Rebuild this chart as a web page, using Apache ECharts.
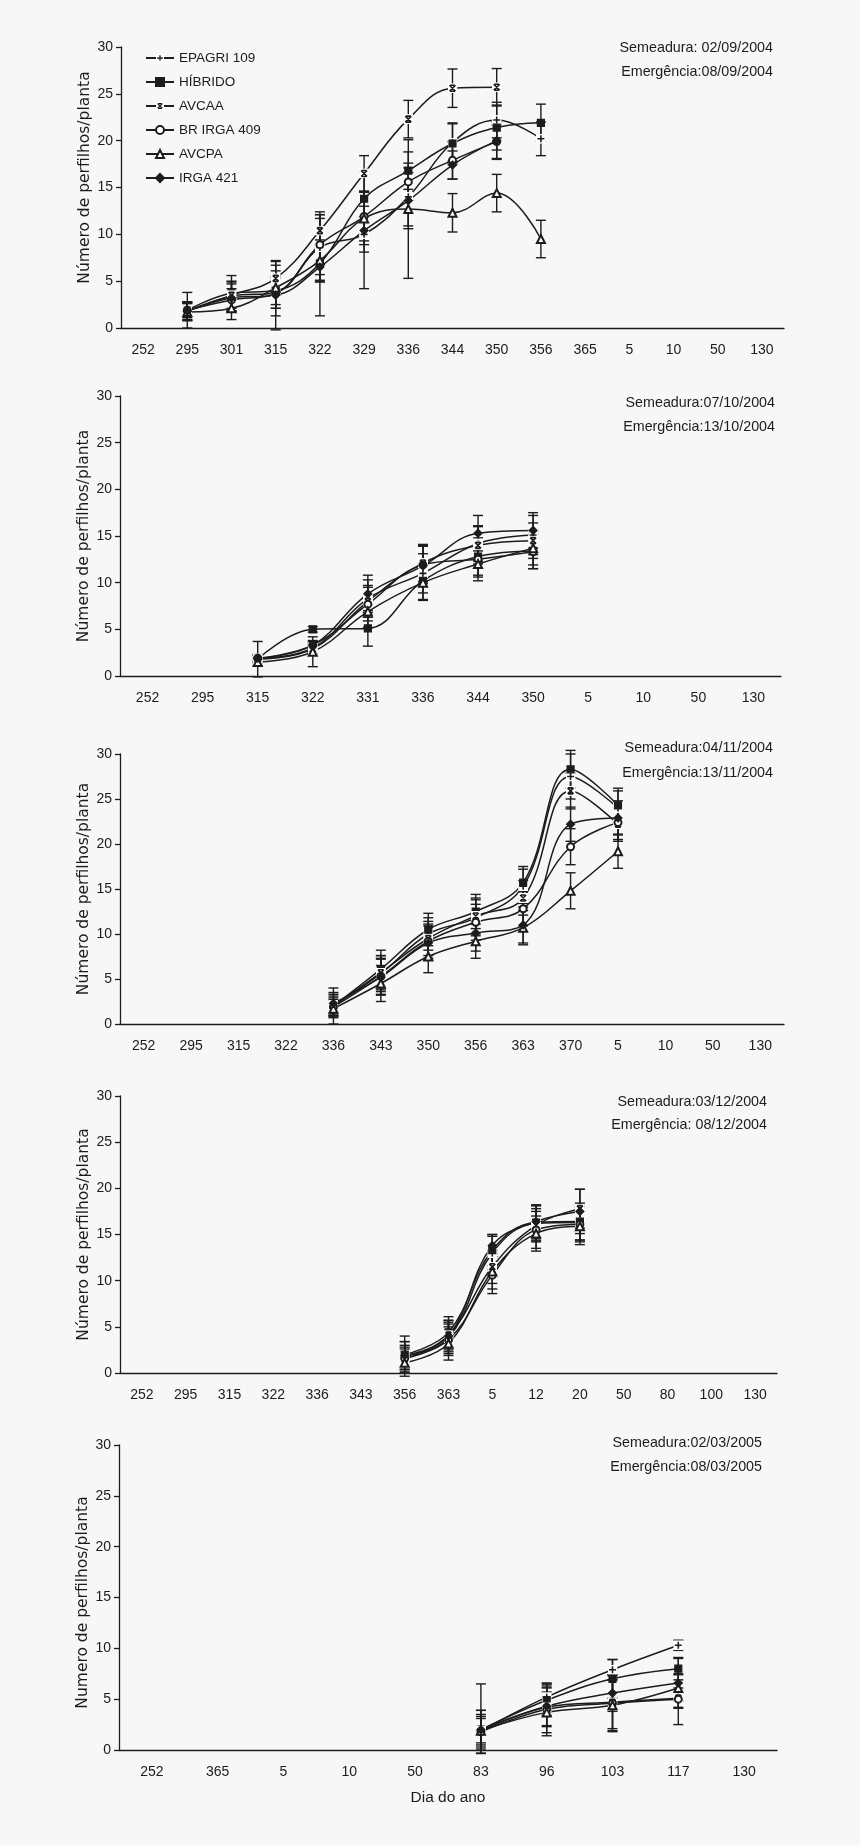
<!DOCTYPE html>
<html><head><meta charset="utf-8">
<script src="https://cdn.jsdelivr.net/npm/echarts@6/dist/echarts.min.js"></script>
<style>html,body{margin:0;padding:0;background:#f7f7f7}#c{width:860px;height:1845px}</style>
</head><body><div id="c"></div>
<script>
// ---------- DATA ----------
const seriesNames = ['EPAGRI 109', 'HÍBRIDO', 'AVCAA', 'BR IRGA 409', 'AVCPA', 'IRGA 421'];
const yAxisTitles = ['Número de perfilhos/planta', 'Número de perfilhos/planta', 'Número de perfilhos/planta', 'Número de perfilhos/planta', 'Numero de perfilhos/planta'];
const xAxisTitle = 'Dia do ano';
const notes1 = ['Semeadura: 02/09/2004', 'Emergência:08/09/2004'];
const notes2 = ['Semeadura:07/10/2004', 'Emergência:13/10/2004'];
const notes3 = ['Semeadura:04/11/2004', 'Emergência:13/11/2004'];
const notes4 = ['Semeadura:03/12/2004', 'Emergência: 08/12/2004'];
const notes5 = ['Semeadura:02/03/2005', 'Emergência:08/03/2005'];

// Panel 1
const cats1 = ['252','295','301','315','322','329','336','344','350','356','365','5','10','50','130'];
const vals1 = [
  [null,1.8,3.4,3.8,8.6,10.0,14.0,19.8,22.2,20.2],
  [null,1.9,3.7,4.0,6.9,13.8,16.8,19.7,21.4,21.9],
  [null,1.8,3.5,5.3,10.4,16.5,22.3,25.6,25.7,null],
  [null,1.9,3.0,3.7,8.9,11.9,15.6,17.9,19.9,null],
  [null,1.7,2.1,4.3,7.2,11.7,12.7,12.3,14.4,9.5],
  [null,1.8,3.2,3.5,6.5,10.4,13.6,17.4,20.0,null]
];
const errs1 = [
  [null,1.0,1.6,1.7,3.5,1.9,3.1,2.0,1.9,1.8],
  [null,1.9,1.9,2.7,2.0,0.8,2.0,2.2,2.4,2.0],
  [null,0.9,1.4,1.8,2.0,1.9,2.0,2.05,2.0,null],
  [null,0.8,1.2,1.6,3.2,2.6,2.0,2.0,1.8,null],
  [null,0.9,1.2,1.8,2.2,2.8,7.4,2.05,2.0,2.0],
  [null,1.0,1.5,3.7,5.2,6.2,3.0,1.5,2.0,null]
];
// Panel 2
const cats2 = ['252','295','315','322','331','336','344','350','5','10','50','130'];
const vals2 = [
  [null,null,1.9,3.0,8.3,11.0,14.2,15.1],
  [null,null,1.8,5.0,5.1,10.2,12.8,13.4],
  [null,null,1.8,2.9,8.0,12.1,14.0,14.5],
  [null,null,1.9,3.3,7.7,11.9,12.5,13.3],
  [null,null,1.5,2.6,6.9,10.0,12.0,13.7],
  [null,null,1.9,3.3,8.8,11.8,15.3,15.6]
];
const errs2 = [
  [null,null,0.4,0.5,2.0,2.1,1.9,2.1],
  [null,null,1.9,0.3,1.9,2.0,2.0,1.9],
  [null,null,0.4,0.4,1.7,2.0,2.0,1.9],
  [null,null,0.3,0.4,1.8,2.0,1.9,1.8],
  [null,null,0.4,1.6,1.7,1.9,1.8,1.8],
  [null,null,0.4,0.5,2.0,2.2,1.9,1.9]
];
// Panel 3
const cats3 = ['252','295','315','322','336','343','350','356','363','370','5','10','50','130'];
const vals3 = [
  [null,null,null,null,2.1,5.6,10.0,11.8,15.3,27.5,24.0],
  [null,null,null,null,2.0,6.1,10.5,12.5,15.7,28.3,24.3],
  [null,null,null,null,2.0,5.7,9.5,12.0,14.0,25.9,22.2],
  [null,null,null,null,1.9,5.3,9.2,11.3,12.8,19.7,22.4],
  [null,null,null,null,1.7,4.5,7.5,9.2,10.7,14.8,19.2],
  [null,null,null,null,2.3,5.2,9.0,10.1,11.0,22.2,22.9]
];
const errs3 = [
  [null,null,null,null,1.2,2.0,1.8,2.0,1.9,2.5,1.9],
  [null,null,null,null,2.0,2.1,1.8,1.9,1.8,2.1,1.9],
  [null,null,null,null,1.1,1.9,1.9,2.0,1.9,2.0,1.9],
  [null,null,null,null,1.0,2.0,1.9,2.0,1.9,2.0,1.9],
  [null,null,null,null,1.0,2.0,1.8,1.9,1.9,2.0,1.9],
  [null,null,null,null,1.2,2.0,1.9,2.0,2.0,1.9,1.9]
];
// Panel 4
const cats4 = ['252','295','315','322','336','343','356','363','5','12','20','50','80','100','130'];
const vals4 = [
  [null,null,null,null,null,null,1.8,3.8,13.0,16.2,16.3],
  [null,null,null,null,null,null,2.0,4.4,13.3,16.3,16.4],
  [null,null,null,null,null,null,1.5,4.1,11.5,16.0,17.8],
  [null,null,null,null,null,null,1.6,3.6,10.6,15.5,16.1],
  [null,null,null,null,null,null,1.1,3.2,11.0,15.1,15.9],
  [null,null,null,null,null,null,1.9,4.0,13.8,16.4,17.5]
];
const errs4 = [
  [null,null,null,null,null,null,1.6,1.7,1.8,1.9,1.9],
  [null,null,null,null,null,null,2.0,1.7,1.7,1.9,2.0],
  [null,null,null,null,null,null,1.5,1.6,1.8,1.8,2.1],
  [null,null,null,null,null,null,1.2,1.7,2.0,2.0,1.9],
  [null,null,null,null,null,null,1.5,1.8,1.9,1.9,2.0],
  [null,null,null,null,null,null,1.5,1.7,1.2,1.8,2.4]
];
// Panel 5
const cats5 = ['252','365','5','10','50','83','96','103','117','130'];
const vals5 = [
  [null,null,null,null,null,1.9,5.2,7.9,10.3],
  [null,null,null,null,null,2.0,4.9,7.0,8.0],
  [null,null,null,null,null,1.9,4.2,4.7,5.1],
  [null,null,null,null,null,1.8,4.0,4.6,5.0],
  [null,null,null,null,null,1.9,3.7,4.4,6.1],
  [null,null,null,null,null,2.0,4.3,5.6,6.6]
];
const errs5 = [
  [null,null,null,null,null,1.6,1.3,1.0,0.5],
  [null,null,null,null,null,1.9,1.5,1.9,1.1],
  [null,null,null,null,null,1.4,1.9,2.6,1.0],
  [null,null,null,null,null,2.1,2.6,2.8,2.5],
  [null,null,null,null,null,1.2,2.0,2.5,1.3],
  [null,null,null,null,null,4.5,1.9,1.8,2.4]
];

// ---------- STYLE / LAYOUT ----------
const INK = '#1c1c1c';
const SANS = "'Liberation Sans', Arial, sans-serif";
const WIDE = "'DejaVu Sans', sans-serif";
const panels = [
  {cats: cats1, vals: vals1, errs: errs1, notes: notes1, grid: {left:121, top:47, width:663, height:281}, noteX: 773, noteY: [48, 72], titlePad: [0,0,0,20]},
  {cats: cats2, vals: vals2, errs: errs2, notes: notes2, grid: {left:120, top:396, width:661, height:280}, noteX: 775, noteY: [403, 427], titlePad: 0},
  {cats: cats3, vals: vals3, errs: errs3, notes: notes3, grid: {left:120, top:754, width:664, height:270}, noteX: 773, noteY: [748, 773], titlePad: 0},
  {cats: cats4, vals: vals4, errs: errs4, notes: notes4, grid: {left:120, top:1096, width:657, height:277}, noteX: 767, noteY: [1102, 1125], titlePad: 0},
  {cats: cats5, vals: vals5, errs: errs5, notes: notes5, grid: {left:119, top:1445, width:658, height:305}, noteX: 762, noteY: [1443, 1467], titlePad: [0,10,0,0]}
];

function svgUri(s) { return 'image://data:image/svg+xml;charset=utf-8,' + encodeURIComponent(s); }
const plusBox = svgUri("<svg xmlns='http://www.w3.org/2000/svg' width='20' height='20' viewBox='0 0 20 20'><rect width='20' height='20' fill='#ffffff'/><path d='M10 3V17M3 10H17' stroke='#1c1c1c' stroke-width='3.2'/></svg>");
const xBox = svgUri("<svg xmlns='http://www.w3.org/2000/svg' width='20' height='20' viewBox='0 0 20 20'><rect width='20' height='20' fill='#ffffff'/><path d='M4 4L16 16M16 4L4 16M5 4H15M5 16H15' stroke='#1c1c1c' stroke-width='3.2'/></svg>");
const markers = [
  {symbol: plusBox, size: 10},
  {symbol: 'rect', size: 7},
  {symbol: xBox, size: 10},
  {symbol: 'emptyCircle', size: 7},
  {symbol: 'emptyTriangle', size: 8},
  {symbol: 'diamond', size: 8}
];

function errRender(params, api) {
  const x = api.value(0), v = api.value(1), e = api.value(2);
  const top = api.coord([x, v + e]);
  const bot = api.coord([x, Math.max(v - e, -0.35)]);
  const hw = 5;
  const st = {stroke: INK, lineWidth: 1.4};
  return {type: 'group', children: [
    {type: 'line', shape: {x1: top[0], y1: top[1], x2: bot[0], y2: bot[1]}, style: st},
    {type: 'line', shape: {x1: top[0] - hw, y1: top[1], x2: top[0] + hw, y2: top[1]}, style: st},
    {type: 'line', shape: {x1: bot[0] - hw, y1: bot[1], x2: bot[0] + hw, y2: bot[1]}, style: st}
  ]};
}

const grids = [], xAxes = [], yAxes = [], series = [], graphics = [];
panels.forEach((p, pi) => {
  grids.push(Object.assign({outerBoundsMode: 'none', containLabel: false}, p.grid));
  const xa = {
    type: 'category', gridIndex: pi, data: p.cats, boundaryGap: true,
    axisLine: {lineStyle: {color: INK, width: 1.3}},
    axisTick: {length: 5, lineStyle: {color: INK, width: 1.3}},
    axisLabel: {interval: 0, color: INK, fontSize: 14, fontFamily: SANS, margin: 15},
    splitLine: {show: false}
  };
  if (pi === 4) {
    xa.name = xAxisTitle; xa.nameLocation = 'middle'; xa.nameGap = 40; xa.nameMoveOverlap = false;
    xa.nameTextStyle = {color: INK, fontSize: 15.5, fontFamily: SANS};
  }
  xAxes.push(xa);
  yAxes.push({
    type: 'value', gridIndex: pi, min: 0, max: 30, interval: 5,
    axisLine: {show: true, lineStyle: {color: INK, width: 1.3}},
    axisTick: {show: true, length: 5, lineStyle: {color: INK, width: 1.3}},
    axisLabel: {color: INK, fontSize: 14, fontFamily: SANS, margin: 8},
    splitLine: {show: false},
    name: yAxisTitles[pi], nameLocation: 'middle', nameGap: 28, nameMoveOverlap: false,
    nameTextStyle: {color: INK, fontSize: 15.5, fontFamily: WIDE, padding: p.titlePad}
  });
  seriesNames.forEach((nm, si) => {
    const ebData = [];
    p.vals[si].forEach((v, ci) => {
      const e = p.errs[si][ci];
      if (v != null && e != null) ebData.push([ci, v, e]);
    });
    series.push({
      type: 'custom', name: 'eb', xAxisIndex: pi, yAxisIndex: pi, z: 2,
      renderItem: errRender, data: ebData, encode: {x: 0, y: 1}, silent: true
    });
  });
  seriesNames.forEach((nm, si) => {
    series.push({
      type: 'line', name: nm, xAxisIndex: pi, yAxisIndex: pi, z: 3,
      data: p.vals[si], smooth: 0.4,
      symbol: markers[si].symbol, symbolSize: markers[si].size, showAllSymbol: true,
      lineStyle: {color: INK, width: 1.5},
      itemStyle: {color: INK, borderColor: INK, borderWidth: 1.2},
      emphasis: {disabled: true}, animation: false
    });
  });
  p.notes.forEach((t, li) => {
    graphics.push({type: 'text', x: p.noteX, y: p.noteY[li], style: {
      text: t, textAlign: 'right', textVerticalAlign: 'middle', fill: INK,
      fontSize: 14.3, fontFamily: SANS
    }});
  });
});

const chart = echarts.init(document.getElementById('c'), null, {renderer: 'canvas'});
chart.setOption({
  backgroundColor: '#f7f7f7',
  animation: false,
  grid: grids, xAxis: xAxes, yAxis: yAxes, series: series, graphic: graphics,
  legend: {
    data: seriesNames, orient: 'vertical', left: 140, top: 46,
    itemWidth: 28, itemHeight: 10, itemGap: 10,
    textStyle: {color: INK, fontSize: 13.5, fontFamily: SANS, lineHeight: 14},
    selectedMode: false
  }
});
</script>
</body></html>
